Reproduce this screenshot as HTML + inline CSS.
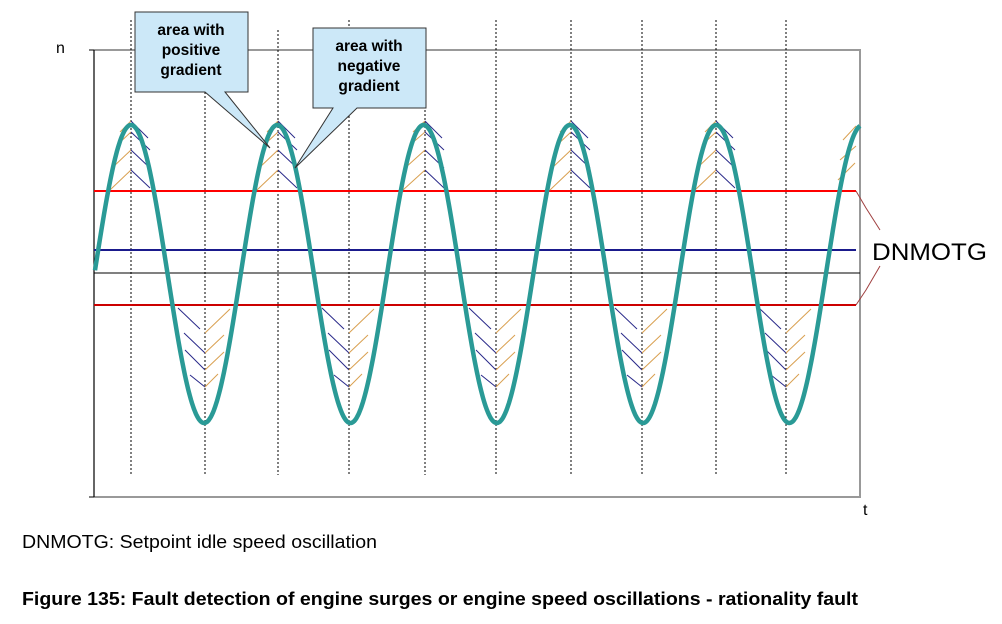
<!DOCTYPE html>
<html><head><style>body{margin:0;background:#fff}svg{display:block}text{font-family:"Liberation Sans",Arial,sans-serif}</style></head><body>
<svg width="1002" height="624" viewBox="0 0 1002 624" xmlns="http://www.w3.org/2000/svg">
<rect width="1002" height="624" fill="#fff"/>
<polyline points="94,50 860,50 860,497 94,497" fill="none" stroke="#999" stroke-width="2"/>
<line x1="94" y1="50" x2="94" y2="497" stroke="#000" stroke-width="1.2"/>
<line x1="89" y1="50" x2="94" y2="50" stroke="#000"/>
<line x1="89" y1="497" x2="94" y2="497" stroke="#000"/>
<g stroke="#000" stroke-width="1" stroke-dasharray="2,2">
<line x1="131" y1="20" x2="131" y2="475"/><line x1="205" y1="20" x2="205" y2="475"/>
<line x1="278" y1="30" x2="278" y2="475"/><line x1="349" y1="20" x2="349" y2="475"/>
<line x1="425" y1="30" x2="425" y2="475"/><line x1="496" y1="20" x2="496" y2="475"/>
<line x1="571" y1="20" x2="571" y2="475"/><line x1="642" y1="20" x2="642" y2="475"/>
<line x1="716" y1="20" x2="716" y2="475"/><line x1="786" y1="20" x2="786" y2="475"/>
</g>
<line x1="94" y1="191" x2="856" y2="191" stroke="#f00" stroke-width="2"/>
<line x1="94" y1="305" x2="856" y2="305" stroke="#c00" stroke-width="2"/>
<line x1="94" y1="250" x2="856" y2="250" stroke="#1a1a8c" stroke-width="2"/>
<line x1="94" y1="273" x2="860" y2="273" stroke="#000" stroke-width="1"/>
<polyline points="856,191 866,208 880,230" fill="none" stroke="#a04040" stroke-width="1"/>
<polyline points="856,305 866,290 880,266" fill="none" stroke="#a04040" stroke-width="1"/>
<text x="872" y="260" font-size="24" textLength="115" lengthAdjust="spacingAndGlyphs">DNMOTG</text>
<g fill="none" stroke-width="1">
<path d="M110,190 L131,170 M112,168 L131,150 M117,145 L131,132 M120,132 L131,121" stroke="#d9a050"/>
<path d="M131,170 L150,188 M131,150 L150,168 M131,132 L150,150 M131,121 L148,138" stroke="#2a2a8a"/>
<path d="M257,190 L278,170 M259,168 L278,150 M264,145 L278,132 M267,132 L278,121" stroke="#d9a050"/>
<path d="M278,170 L297,188 M278,150 L297,168 M278,132 L297,150 M278,121 L295,138" stroke="#2a2a8a"/>
<path d="M403,190 L425,170 M405,168 L425,150 M410,145 L425,132 M413,132 L425,121" stroke="#d9a050"/>
<path d="M425,170 L444,188 M425,150 L444,168 M425,132 L444,150 M425,121 L442,138" stroke="#2a2a8a"/>
<path d="M550,190 L571,170 M552,168 L571,150 M557,145 L571,132 M560,132 L571,121" stroke="#d9a050"/>
<path d="M571,170 L590,188 M571,150 L590,168 M571,132 L590,150 M571,121 L588,138" stroke="#2a2a8a"/>
<path d="M695,190 L716,170 M697,168 L716,150 M702,145 L716,132 M705,132 L716,121" stroke="#d9a050"/>
<path d="M716,170 L735,188 M716,150 L735,168 M716,132 L735,150 M716,121 L733,138" stroke="#2a2a8a"/>
<path d="M838,180 L855,163 M840,160 L856,146 M843,140 L856,126" stroke="#d9a050"/>
<g id="tr">
<path d="M178,308 L200,329 M184,333 L205,353 M185,350 L205,370 M190,375 L205,387" stroke="#2a2a8a"/>
<path d="M205,333 L230,309 M205,353 L224,335 M205,370 L224,352 M205,387 L218,374" stroke="#d9a050"/>
</g>
<use href="#tr" x="144"/><use href="#tr" x="291"/><use href="#tr" x="437"/><use href="#tr" x="581"/>
</g>
<path id="sine" fill="none" stroke="#2a9a96" stroke-width="4.5" stroke-linejoin="round" d=""/>
<script>
var d="";for(var x=95;x<=860;x+=1){var ph=(x-131)/146.3*2*Math.PI;var y=274-149*Math.cos(ph);d+=(x==95?"M":"L")+x+","+y.toFixed(1);}document.getElementById("sine").setAttribute("d",d);
</script>
<g stroke="#333" stroke-width="1" fill="#cce8f8">
<path d="M135,12 L248,12 L248,92 L225,92 L270,148 L205,92 L135,92 Z"/>
<path d="M313,28 L426,28 L426,108 L357,108 L295,168 L333,108 L313,108 Z"/>
</g>
<g font-size="15.5" font-weight="bold" text-anchor="middle" fill="#000">
<text x="191" y="35">area with</text><text x="191" y="55">positive</text><text x="191" y="75">gradient</text>
<text x="369" y="51">area with</text><text x="369" y="71">negative</text><text x="369" y="91">gradient</text>
</g>
<text x="56" y="53" font-size="16">n</text>
<text x="863" y="515" font-size="16">t</text>
<text x="22" y="548" font-size="18" textLength="355" lengthAdjust="spacingAndGlyphs">DNMOTG: Setpoint idle speed oscillation</text>
<text x="22" y="605" font-size="18" font-weight="bold" textLength="836" lengthAdjust="spacingAndGlyphs">Figure 135: Fault detection of engine surges or engine speed oscillations - rationality fault</text>
</svg>
</body></html>
